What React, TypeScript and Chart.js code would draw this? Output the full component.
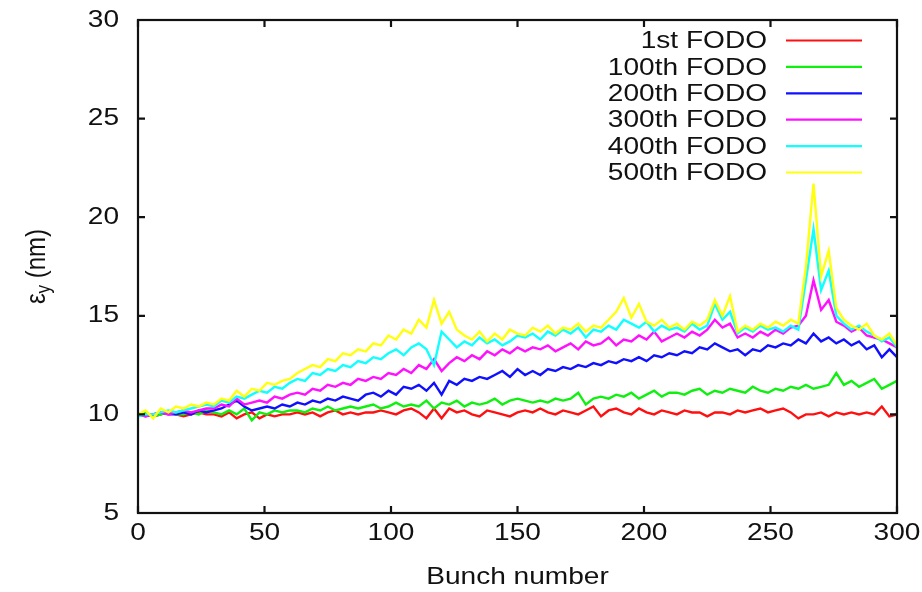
import React, { useEffect, useRef } from "react";
import { Chart, registerables } from "chart.js";

Chart.register(...registerables);

// Bunch numbers (sampled every 3rd bunch)
const bunches: number[] = Array.from({ length: 101 }, (_, i) => i * 3);

const seriesLabels = ["1st FODO", "100th FODO", "200th FODO", "300th FODO", "400th FODO", "500th FODO"];
const seriesColors = ["#ff1010", "#10f010", "#1010ff", "#ff10ff", "#10ffff", "#ffff10"];

const fodo1 = [
  10.0, 10.1, 9.9, 10.0, 10.1, 10.0, 9.9, 10.0, 10.1, 10.0, 10.0,
  9.9, 10.1, 9.8, 10.0, 10.1, 9.8, 10.0, 9.9, 10.0, 10.0,
  10.1, 10.0, 10.1, 9.9, 10.1, 10.2, 10.0, 10.1, 10.0, 10.1,
  10.1, 10.2, 10.1, 10.0, 10.2, 10.3, 10.1, 9.8, 10.3, 9.8,
  10.3, 10.1, 10.2, 10.0, 9.9, 10.2, 10.1, 10.0, 9.9, 10.1,
  10.2, 10.1, 10.3, 10.1, 10.0, 10.2, 10.1, 10.0, 10.2, 10.4,
  9.9, 10.2, 10.3, 10.1, 10.0, 10.3, 10.1, 10.0, 10.2, 10.1,
  10.0, 10.2, 10.1, 10.1, 9.9, 10.1, 10.1, 10.0, 10.2, 10.1,
  10.2, 10.3, 10.1, 10.2, 10.3, 10.1, 9.8, 10.0, 10.0, 10.1,
  9.9, 10.1, 10.0, 10.1, 10.0, 10.1, 10.0, 10.4, 9.9, 10.0,
];

const fodo100 = [
  10.0, 10.1, 9.9, 10.0, 10.1, 10.0, 10.0, 10.1, 10.0, 10.2, 10.1,
  10.0, 10.2, 10.0, 10.3, 9.7, 10.1, 10.0, 10.2, 10.1, 10.2,
  10.2, 10.1, 10.3, 10.2, 10.4, 10.2, 10.3, 10.4, 10.3, 10.4,
  10.5, 10.3, 10.4, 10.6, 10.4, 10.5, 10.4, 10.7, 10.3, 10.6,
  10.5, 10.7, 10.4, 10.6, 10.5, 10.6, 10.8, 10.5, 10.7, 10.8,
  10.7, 10.6, 10.7, 10.6, 10.8, 10.7, 10.8, 11.1, 10.5, 10.8,
  10.9, 10.8, 11.0, 10.9, 11.1, 10.8, 11.0, 11.2, 10.9, 11.1,
  11.1, 11.0, 11.2, 11.3, 11.0, 11.2, 11.1, 11.3, 11.2, 11.1,
  11.4, 11.2, 11.1, 11.3, 11.2, 11.4, 11.3, 11.5, 11.3, 11.4,
  11.5, 12.1, 11.5, 11.7, 11.4, 11.6, 11.8, 11.3, 11.5, 11.7,
];

const fodo200 = [
  10.0, 9.9, 10.0, 10.1, 10.0, 10.0, 10.1, 10.0, 10.2, 10.1, 10.2,
  10.3, 10.5, 10.7, 10.4, 10.2, 10.3, 10.4, 10.3, 10.5, 10.4,
  10.6, 10.5, 10.7, 10.6, 10.8, 10.7, 10.9, 10.8, 10.7, 11.0,
  11.1, 10.9, 11.2, 11.0, 11.4, 11.3, 11.5, 11.2, 11.6, 11.0,
  11.7, 11.5, 11.8, 11.7, 11.9, 11.8, 12.0, 12.2, 11.9, 12.3,
  12.0, 12.2, 12.0, 12.3, 12.2, 12.4, 12.3, 12.5, 12.4, 12.6,
  12.5, 12.7, 12.6, 12.8, 12.7, 12.9, 12.7, 13.0, 12.9, 13.1,
  13.0, 13.2, 13.1, 13.4, 13.3, 13.6, 13.4, 13.2, 13.3, 13.0,
  13.3, 13.2, 13.5, 13.4, 13.6, 13.5, 13.8, 13.6, 14.1, 13.7,
  13.9, 13.6, 13.8, 13.5, 13.7, 13.3, 13.5, 12.9, 13.3, 12.9,
];

const fodo300 = [
  10.0, 9.9, 10.0, 10.1, 10.0, 10.1, 10.2, 10.1, 10.2, 10.3, 10.3,
  10.5, 10.4, 10.8, 10.5, 10.6, 10.7, 10.6, 10.9, 10.8, 11.0,
  11.1, 11.0, 11.3, 11.2, 11.5, 11.4, 11.6, 11.5, 11.8, 11.7,
  11.9, 11.8, 12.1, 12.0, 12.3, 12.1, 12.5, 12.3, 12.8, 12.2,
  12.6, 12.9, 12.7, 13.0, 12.8, 13.2, 13.0, 13.3, 13.1, 13.4,
  13.2, 13.4, 13.3, 13.5, 13.2, 13.4, 13.6, 13.3, 13.7, 13.5,
  13.6, 13.9, 13.5, 13.8, 13.7, 14.0, 13.8, 14.2, 13.7, 13.9,
  14.1, 13.9, 14.2, 14.0, 14.3, 14.8, 14.4, 14.6, 13.9, 14.1,
  13.9, 14.2, 14.0, 14.3, 14.1, 14.4, 14.5, 15.0, 16.8, 15.3,
  15.8, 14.7, 14.5, 14.2, 14.4, 14.0, 13.9, 13.8, 13.6, 13.4,
];

const fodo400 = [
  9.9, 10.0, 10.0, 10.1, 10.2, 10.1, 10.2, 10.3, 10.4, 10.5, 10.4,
  10.7, 10.6, 10.9, 10.8, 11.0, 11.2, 11.1, 11.4, 11.3, 11.6,
  11.8, 11.7, 12.1, 12.0, 12.3, 12.2, 12.5, 12.4, 12.7, 12.6,
  12.9, 12.8, 13.1, 13.3, 13.0, 13.4, 13.6, 13.3, 12.5, 14.2,
  13.8, 13.4, 13.7, 13.5, 13.9, 13.6, 13.8, 13.5, 13.7, 14.0,
  13.9, 14.1, 13.8, 14.2, 14.0, 14.3, 14.1, 14.4, 13.9, 14.3,
  14.2, 14.5, 14.3, 14.8, 14.6, 14.4, 14.7, 14.2, 14.5, 14.3,
  14.4, 14.2, 14.6, 14.3, 14.5, 15.6, 14.8, 15.2, 14.1, 14.4,
  14.2, 14.5, 14.3, 14.4, 14.2, 14.5, 14.3, 16.8, 19.4, 16.3,
  17.3, 15.0, 14.6, 14.3, 14.5, 14.2, 14.0, 13.7, 13.9, 13.4,
];

const fodo500 = [
  10.0, 10.2, 9.8, 10.3, 10.1, 10.4, 10.3, 10.5, 10.4, 10.6, 10.5,
  10.8, 10.7, 11.2, 10.9, 11.3, 11.2, 11.6, 11.5, 11.7, 11.8,
  12.1, 12.3, 12.5, 12.4, 12.8, 12.7, 13.1, 13.0, 13.3, 13.2,
  13.6, 13.5, 14.0, 13.8, 14.3, 14.1, 14.8, 14.4, 15.8, 14.6,
  15.2, 14.3, 14.0, 13.8, 14.2, 13.7, 14.1, 13.8, 14.3, 14.1,
  14.0, 14.4, 14.2, 14.5, 14.1, 14.4, 14.3, 14.6, 14.2, 14.5,
  14.4, 14.8, 15.2, 15.9, 14.9, 15.6, 14.7, 14.5, 14.8, 14.4,
  14.6, 14.3, 14.7, 14.5, 14.8, 15.8, 15.0, 16.0, 14.2, 14.5,
  14.3, 14.6, 14.4, 14.7, 14.5, 14.8, 14.6, 17.5, 21.7, 17.0,
  18.3, 15.4, 14.8, 14.5, 14.3, 14.6, 14.0, 13.8, 14.1, 13.5,
];

const seriesValues = [fodo1, fodo100, fodo200, fodo300, fodo400, fodo500];

const xTicks = [0, 50, 100, 150, 200, 250, 300];
const yTicks = [5, 10, 15, 20, 25, 30];
const xTitle = "Bunch number";
const yTitleMain = "ε";
const yTitleSub = "y";
const yTitleRest = " (nm)";

const FONT_FAMILY = "'Liberation Sans', Arial, Helvetica, sans-serif";
const FONT = `24px ${FONT_FAMILY}`;
const SUB_FONT = `17px ${FONT_FAMILY}`;
const SX = 1.17;
const TEXT_COLOR = "#111";

function drawText(ctx: CanvasRenderingContext2D, s: string, x: number, y: number, align: CanvasTextAlign) {
  ctx.save();
  ctx.translate(x, y);
  ctx.scale(SX, 1);
  ctx.textAlign = align;
  ctx.textBaseline = "middle";
  ctx.fillText(s, 0, 0);
  ctx.restore();
}

const gnuplotFrame = {
  id: "gnuplotFrame",
  afterDraw(chart: any) {
    const ctx: CanvasRenderingContext2D = chart.ctx;
    const a = chart.chartArea;
    const xs = chart.scales.x;
    const ys = chart.scales.y;
    ctx.save();

    // frame
    ctx.strokeStyle = "#111";
    ctx.lineWidth = 2.2;
    ctx.strokeRect(a.left, a.top, a.right - a.left, a.bottom - a.top);

    // inward ticks on all four sides
    const tl = 7;
    ctx.beginPath();
    for (const v of xTicks) {
      const px = xs.getPixelForValue(v);
      ctx.moveTo(px, a.bottom);
      ctx.lineTo(px, a.bottom - tl);
      ctx.moveTo(px, a.top);
      ctx.lineTo(px, a.top + tl);
    }
    for (const v of yTicks) {
      const py = ys.getPixelForValue(v);
      ctx.moveTo(a.left, py);
      ctx.lineTo(a.left + tl, py);
      ctx.moveTo(a.right, py);
      ctx.lineTo(a.right - tl, py);
    }
    ctx.stroke();

    // tick labels
    ctx.fillStyle = TEXT_COLOR;
    ctx.font = FONT;
    for (const v of xTicks) drawText(ctx, String(v), xs.getPixelForValue(v), a.bottom + 20, "center");
    for (const v of yTicks) drawText(ctx, String(v), a.left - 19, ys.getPixelForValue(v), "right");

    // x title
    drawText(ctx, xTitle, (a.left + a.right) / 2, a.bottom + 64, "center");

    // y title (rotated, with subscript)
    ctx.save();
    ctx.translate(37, (a.top + a.bottom) / 2);
    ctx.rotate(-Math.PI / 2);
    ctx.scale(1, SX);
    ctx.textAlign = "left";
    ctx.textBaseline = "middle";
    ctx.font = FONT;
    const w1 = ctx.measureText(yTitleMain).width;
    const w3 = ctx.measureText(yTitleRest).width;
    ctx.font = SUB_FONT;
    const w2 = ctx.measureText(yTitleSub).width;
    let x = -(w1 + w2 + w3) / 2;
    ctx.font = FONT;
    ctx.fillText(yTitleMain, x, 0);
    x += w1;
    ctx.font = SUB_FONT;
    ctx.fillText(yTitleSub, x, 6);
    x += w2;
    ctx.font = FONT;
    ctx.fillText(yTitleRest, x, 0);
    ctx.restore();

    // legend (top right, text right-aligned then sample line)
    chart.data.datasets.forEach((ds: any, i: number) => {
      const ly = a.top + 20.5 + i * 26.4;
      ctx.fillStyle = TEXT_COLOR;
      ctx.font = FONT;
      drawText(ctx, ds.label, 767, ly + 1, "right");
      ctx.strokeStyle = ds.borderColor;
      ctx.lineWidth = 2.2;
      ctx.beginPath();
      ctx.moveTo(786, ly);
      ctx.lineTo(862, ly);
      ctx.stroke();
    });

    ctx.restore();
  },
};

export default function App() {
  const canvasRef = useRef<HTMLCanvasElement | null>(null);

  useEffect(() => {
    if (!canvasRef.current) return;
    const chart = new Chart(canvasRef.current, {
      type: "line",
      data: {
        labels: bunches,
        datasets: seriesLabels.map((label, i) => ({
          label,
          data: bunches.map((b, j) => ({ x: b, y: seriesValues[i][j] })),
          borderColor: seriesColors[i],
          backgroundColor: seriesColors[i],
          borderWidth: 2.4,
          pointRadius: 0,
          tension: 0,
          fill: false,
          order: seriesLabels.length - 1 - i,
        })),
      },
      options: {
        responsive: false,
        animation: false,
        layout: { padding: { left: 138, top: 20, right: 25, bottom: 79 } },
        plugins: {
          legend: { display: false },
          tooltip: { enabled: false },
          title: { display: false },
        },
        scales: {
          x: { type: "linear", min: 0, max: 300, display: false },
          y: { type: "linear", min: 5, max: 30, display: false },
        },
      },
      plugins: [gnuplotFrame],
    });
    return () => chart.destroy();
  }, []);

  return (
    <div style={{ position: "absolute", left: 0, top: 0, width: 922, height: 592, background: "#fff" }}>
      <canvas ref={canvasRef} width={922} height={592} />
    </div>
  );
}
